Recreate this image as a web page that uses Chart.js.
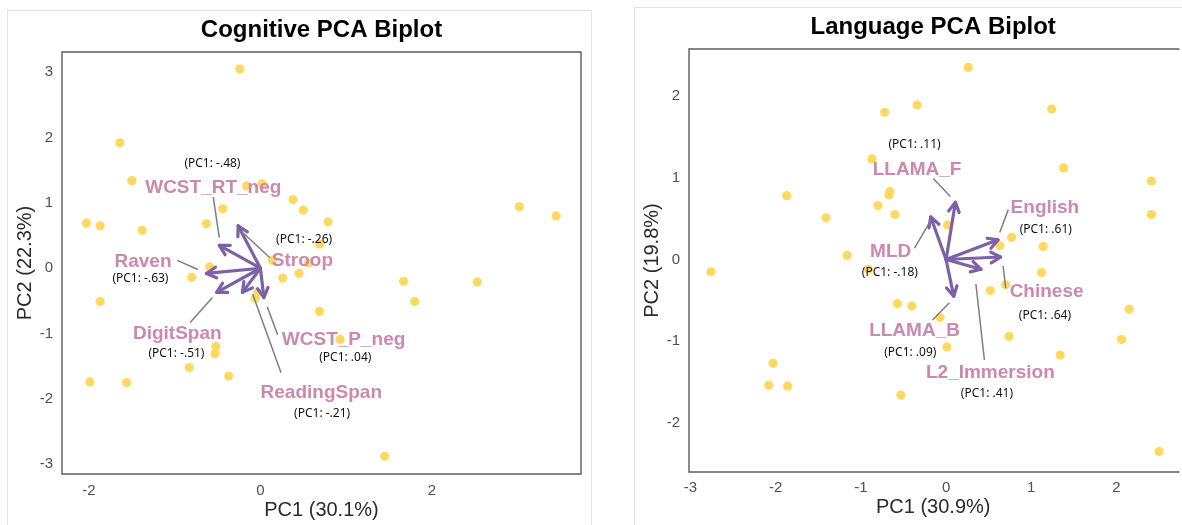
<!DOCTYPE html>
<html>
<head>
<meta charset="utf-8">
<title>PCA Biplots</title>
<script src="https://cdn.jsdelivr.net/npm/chart.js@4.4.1/dist/chart.umd.min.js"></script>
<style>
  html, body { margin: 0; padding: 0; background: #ffffff; }
  body { width: 1182px; height: 525px; position: relative; overflow: hidden; }
  .panel { position: absolute; border: 1px solid #e3e3e3; box-sizing: border-box; background: #ffffff; }
  #cogPanel { left: 7px; top: 10px; width: 585px; height: 600px; }
  #langPanel { left: 634px; top: 7px; width: 700px; height: 600px; }
  canvas { position: absolute; }
</style>
</head>
<body>
<div class="panel" id="cogPanel"></div>
<div class="panel" id="langPanel"></div>
<canvas id="cogChart" width="584" height="515" style="left:7px;top:10px"></canvas>
<canvas id="langChart" width="548" height="518" style="left:634px;top:7px"></canvas>
<script>
// ---------- Cognitive PCA: individual scores ----------
const cogScoresPC1 = [-0.24, -1.64, -1.50, -0.16, 0.02, 0.38, 0.50, -0.44, 0.79, -2.03,
                      -1.87, -1.38, -0.63, 3.02, 3.45, 0.69, 0.14, 0.56, 0.45, 0.26,
                      -0.59, -0.80, -0.03, -0.06, 0.69, -1.87, 1.67, 2.53, 1.80, 0.93,
                      1.45, -0.52, -0.53, -0.83, -0.37, -1.99, -1.56];
const cogScoresPC2 = [3.05, 1.92, 1.34, 1.26, 1.29, 1.05, 0.89, 0.91, 0.71, 0.69,
                      0.65, 0.58, 0.68, 0.94, 0.80, 0.37, 0.12, 0.08, -0.08, -0.15,
                      0.02, -0.14, -0.37, -0.46, -0.66, -0.51, -0.20, -0.21, -0.51, -1.09,
                      -2.88, -1.20, -1.31, -1.52, -1.65, -1.74, -1.75];

// ---------- Cognitive PCA: variable loadings ----------
const cogVariables = ['WCST_RT_neg', 'Stroop', 'Raven', 'DigitSpan', 'WCST_P_neg', 'ReadingSpan'];
const cogLoadPC1   = [-0.48, -0.26, -0.63, -0.51, 0.04, -0.21];
const cogLoadPC2   = [0.35, 0.65, -0.08, -0.37, -0.45, -0.37];

// ---------- Language PCA: individual scores ----------
const langScoresPC1 = [-0.72, -0.87, -1.87, -0.80, -0.67, -0.66, -1.41, -1.16, 0.26, -0.34,
                       1.24, 1.38, 2.41, 2.41, -0.60, 0.02, 0.77, 1.14, 0.63, 1.12,
                       0.70, 0.52, 0.74, -0.57, -0.40, -0.07, 0.01, 1.34, 2.15, 2.06,
                       -0.53, 2.50, -2.76, -0.91, -2.03, -2.08, -1.86];
const langScoresPC2 = [1.80, 1.23, 0.78, 0.66, 0.79, 0.83, 0.51, 0.05, 2.35, 1.89,
                       1.84, 1.12, 0.96, 0.55, 0.55, 0.42, 0.27, 0.16, 0.17, -0.16,
                       -0.31, -0.38, -0.94, -0.54, -0.57, -0.71, -1.07, -1.17, -0.61, -0.98,
                       -1.66, -2.35, -0.15, -0.12, -1.27, -1.54, -1.55];

// ---------- Language PCA: variable loadings ----------
const langVariables = ['LLAMA_F', 'MLD', 'English', 'Chinese', 'LLAMA_B', 'L2_Immersion'];
const langLoadPC1   = [0.11, -0.18, 0.61, 0.64, 0.09, 0.41];
const langLoadPC2   = [0.70, 0.52, 0.24, 0.03, -0.45, -0.12];

// ---------- Axis ticks ----------
const cogXTicks  = [-2, 0, 2];
const cogYTicks  = [-3, -2, -1, 0, 1, 2, 3];
const langXTicks = [-3, -2, -1, 0, 1, 2];
const langYTicks = [-2, -1, 0, 1, 2];

// ---------- Label placement (data units): name, loading text, leader segment ----------
const cogLabelLayout = [
  { name: [-0.55, 1.23], load: [-0.56, 1.60], seg: [-0.55, 1.09, -0.48, 0.47] },
  { name: [0.49, 0.12],  load: [0.51, 0.44],  seg: [0.11, 0.16, -0.20, 0.54] },
  { name: [-1.37, 0.10], load: [-1.40, -0.16], seg: [-0.97, 0.12, -0.73, -0.02] },
  { name: [-0.97, -1.00], load: [-0.98, -1.30], seg: [-0.82, -0.83, -0.56, -0.45] },
  { name: [0.97, -1.09], load: [0.99, -1.37], seg: [0.08, -0.59, 0.20, -1.02] },
  { name: [0.71, -1.90], load: [0.72, -2.22], seg: [-0.09, -0.40, 0.24, -1.60] }
];
const langLabelLayout = [
  { name: [-0.34, 1.10], load: [-0.37, 1.40], seg: [-0.15, 0.99, 0.05, 0.77] },
  { name: [-0.65, 0.09], load: [-0.66, -0.16], seg: [-0.37, 0.14, -0.19, 0.46] },
  { name: [1.16, 0.63],  load: [1.17, 0.37],  seg: [0.73, 0.61, 0.63, 0.33] },
  { name: [1.18, -0.40], load: [1.16, -0.69], seg: [0.67, -0.08, 0.70, -0.35] },
  { name: [-0.37, -0.87], load: [-0.42, -1.14], seg: [0.04, -0.53, -0.16, -0.74] },
  { name: [0.52, -1.39], load: [0.48, -1.64], seg: [0.35, -0.30, 0.45, -1.23] }
];

// ---------- Styling ----------
const POINT_COLOR  = '#FFD95F';
const ARROW_COLOR  = '#7B62A8';
const LABEL_COLOR  = '#CC89AC';
const LEADER_COLOR = '#7f7f7f';
const FRAME_COLOR  = '#5c5c5c';
const SANS = '"Liberation Sans", Arial, Helvetica, sans-serif';

function loadingText(v) {
  const digits = Math.abs(v).toFixed(2).replace(/^0/, '');
  return '(PC1: ' + (v < 0 ? '-' : '') + digits + ')';
}

// Arrowheads at the end of each loading vector
const arrowHeads = {
  id: 'arrowHeads',
  afterDatasetsDraw(chart) {
    const ctx = chart.ctx;
    chart.data.datasets.forEach((ds, i) => {
      if (!ds.isLoading) return;
      const meta = chart.getDatasetMeta(i);
      const a = meta.data[0], b = meta.data[1];
      const ang = Math.atan2(b.y - a.y, b.x - a.x);
      const len = 11, spread = Math.PI / 6.2;
      ctx.save();
      ctx.strokeStyle = ARROW_COLOR;
      ctx.lineWidth = 3.2;
      ctx.lineCap = 'round';
      ctx.lineJoin = 'round';
      ctx.beginPath();
      ctx.moveTo(b.x - len * Math.cos(ang - spread), b.y - len * Math.sin(ang - spread));
      ctx.lineTo(b.x, b.y);
      ctx.lineTo(b.x - len * Math.cos(ang + spread), b.y - len * Math.sin(ang + spread));
      ctx.stroke();
      ctx.restore();
    });
  }
};

// Frame around the plotting region and the chart heading
const frameAndHeading = {
  id: 'frameAndHeading',
  beforeDraw(chart, args, opts) {
    const { ctx, chartArea: ca } = chart;
    ctx.save();
    ctx.strokeStyle = FRAME_COLOR;
    ctx.lineWidth = 1.4;
    ctx.beginPath();
    if (opts.openRight) {
      ctx.moveTo(ca.right + 2, ca.top);
      ctx.lineTo(ca.left, ca.top);
      ctx.lineTo(ca.left, ca.bottom);
      ctx.lineTo(ca.right + 2, ca.bottom);
    } else {
      ctx.rect(ca.left, ca.top, ca.right - ca.left, ca.bottom - ca.top);
    }
    ctx.stroke();
    ctx.fillStyle = '#000000';
    ctx.font = 'bold 24px ' + SANS;
    ctx.textAlign = 'center';
    ctx.textBaseline = 'middle';
    ctx.fillText(opts.text, (ca.left + ca.right) / 2, opts.y);
    ctx.restore();
  }
};

// Variable names, loading values and leader segments
const variableLabels = {
  id: 'variableLabels',
  afterDatasetsDraw(chart, args, opts) {
    const { ctx } = chart;
    const xs = chart.scales.x, ys = chart.scales.y;
    const px = v => xs.getPixelForValue(v), py = v => ys.getPixelForValue(v);
    ctx.save();
    opts.names.forEach((name, i) => {
      const L = opts.layout[i];
      ctx.strokeStyle = LEADER_COLOR;
      ctx.lineWidth = 1.5;
      ctx.beginPath();
      ctx.moveTo(px(L.seg[0]), py(L.seg[1]));
      ctx.lineTo(px(L.seg[2]), py(L.seg[3]));
      ctx.stroke();
      ctx.textAlign = 'center';
      ctx.textBaseline = 'middle';
      ctx.fillStyle = LABEL_COLOR;
      ctx.font = 'bold 19px ' + SANS;
      ctx.fillText(name, px(L.name[0]), py(L.name[1]));
      ctx.fillStyle = '#111111';
      ctx.font = '12px "Noto Sans", "Open Sans", sans-serif';
      ctx.fillText(loadingText(opts.loadings[i]), px(L.load[0]), py(L.load[1]));
    });
    ctx.restore();
  }
};

function buildBiplot(canvasId, cfg) {
  const scores = cfg.pc1.map((v, i) => ({ x: v, y: cfg.pc2[i] }));
  const arrowSets = cfg.names.map((n, i) => ({
    label: n,
    isLoading: true,
    data: [{ x: 0, y: 0 }, { x: cfg.load1[i], y: cfg.load2[i] }],
    showLine: true,
    borderColor: ARROW_COLOR,
    borderWidth: 3.2,
    borderCapStyle: 'round',
    pointRadius: 0,
    order: 1
  }));
  const tickFont = { family: SANS, size: 15 };
  const titleFont = { family: SANS, size: 20 };
  return new Chart(document.getElementById(canvasId), {
    type: 'scatter',
    data: {
      datasets: arrowSets.concat([{
        label: 'scores',
        data: scores,
        backgroundColor: POINT_COLOR,
        borderWidth: 0,
        pointRadius: 4.6,
        order: 2
      }])
    },
    options: {
      responsive: false,
      devicePixelRatio: 1,
      animation: false,
      layout: { padding: { top: 42, right: cfg.padRight, left: 0, bottom: 0 } },
      plugins: {
        legend: { display: false },
        tooltip: { enabled: false },
        title: { display: false },
        frameAndHeading: { text: cfg.title, y: 20, openRight: cfg.openRight },
        variableLabels: { names: cfg.names, loadings: cfg.load1, layout: cfg.layout }
      },
      scales: {
        x: {
          type: 'linear',
          min: cfg.xRange[0], max: cfg.xRange[1],
          grid: { display: false, drawTicks: false },
          border: { display: false },
          afterBuildTicks: s => { s.ticks = cfg.xTicks.map(v => ({ value: v })); },
          afterFit: s => { s.height = cfg.xAxisHeight; },
          ticks: { autoSkip: false, padding: cfg.xTickPad, color: '#505050', font: tickFont,
                   maxRotation: 0, callback: v => String(v) },
          title: { display: true, text: cfg.xTitle, color: '#2b2b2b', font: titleFont,
                   padding: { top: 0, bottom: cfg.xTitlePad } }
        },
        y: {
          type: 'linear',
          min: cfg.yRange[0], max: cfg.yRange[1],
          grid: { display: false, drawTicks: false },
          border: { display: false },
          afterBuildTicks: s => { s.ticks = cfg.yTicks.map(v => ({ value: v })); },
          afterFit: s => { s.width = 55; },
          ticks: { autoSkip: false, padding: 9, color: '#505050', font: tickFont,
                   callback: v => String(v) },
          title: { display: true, text: cfg.yTitle, color: '#2b2b2b', font: titleFont,
                   padding: { top: 6, bottom: 0 } }
        }
      }
    },
    plugins: [frameAndHeading, arrowHeads, variableLabels]
  });
}

buildBiplot('cogChart', {
  title: 'Cognitive PCA Biplot',
  pc1: cogScoresPC1, pc2: cogScoresPC2,
  names: cogVariables, load1: cogLoadPC1, load2: cogLoadPC2,
  layout: cogLabelLayout,
  xTicks: cogXTicks, yTicks: cogYTicks,
  xRange: [-2.315, 3.74], yRange: [-3.15, 3.31],
  xTitle: 'PC1 (30.1%)', yTitle: 'PC2 (22.3%)',
  padRight: 10, xAxisHeight: 51, xTickPad: 8, xTitlePad: 3, openRight: false
});

buildBiplot('langChart', {
  title: 'Language PCA Biplot',
  pc1: langScoresPC1, pc2: langScoresPC2,
  names: langVariables, load1: langLoadPC1, load2: langLoadPC2,
  layout: langLabelLayout,
  xTicks: langXTicks, yTicks: langYTicks,
  xRange: [-3.017, 2.715], yRange: [-2.6, 2.575],
  xTitle: 'PC1 (30.9%)', yTitle: 'PC2 (19.8%)',
  padRight: 0, xAxisHeight: 53, xTickPad: 7, xTitlePad: 6, openRight: true
});
</script>
</body>
</html>
